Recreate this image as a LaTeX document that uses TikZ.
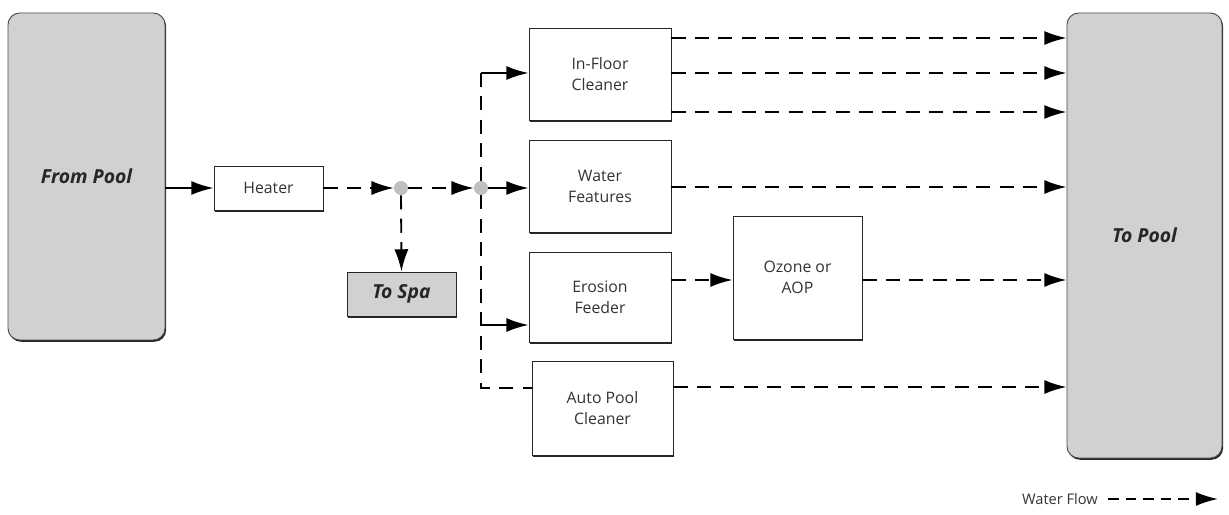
\documentclass[tikz,border=0pt]{standalone}
\usepackage{fontspec}
\setmainfont{Open Sans}
\usetikzlibrary{arrows.meta,shadows}
\begin{document}
\begin{tikzpicture}[x=0.03cm,y=-0.03cm,
 box/.style={draw=black!85,line width=0.8pt,fill=white,inner sep=0pt,align=center,font=\fontsize{13.5}{18}\selectfont\color{black!80},drop shadow={shadow xshift=1pt,shadow yshift=-1.5pt,fill=black!85,opacity=1}},
 gbox/.style={box,fill=black!18,font=\fontsize{16.5}{18}\selectfont\bfseries\itshape\color{black!85}},
 pool/.style={gbox,rounded corners=10pt,draw=black!70},
 tip/.style={-{Latex[length=19pt,width=12pt]}},
 flow/.style={line width=1.6pt,dash pattern=on 12pt off 8pt,tip},
 solid flow/.style={line width=1.6pt,tip},
 dot/.style={circle,fill=black!25,inner sep=0pt,minimum size=12pt}]
\useasboundingbox (0,0) rectangle (1229,515);
\node[pool,minimum width=157*0.03cm,minimum height=327*0.03cm] (from) at (86.5,176.5) {From Pool};
\node[pool,minimum width=155*0.03cm,minimum height=445*0.03cm] (to) at (1144.5,235.5) {To Pool};
\node[box,minimum width=109*0.03cm,minimum height=44*0.03cm] (heater) at (268.5,188) {Heater};
\node[gbox,minimum width=109*0.03cm,minimum height=44*0.03cm] (spa) at (401.5,294) {To Spa};
\node[box,minimum width=142*0.03cm,minimum height=92*0.03cm] (infloor) at (600,74) {In-Floor\\Cleaner};
\node[box,minimum width=142*0.03cm,minimum height=92*0.03cm] (water) at (600,186) {Water\\Features};
\node[box,minimum width=142*0.03cm,minimum height=90*0.03cm] (erosion) at (600,297) {Erosion\\Feeder};
\node[box,minimum width=141*0.03cm,minimum height=94*0.03cm] (auto) at (602.5,408) {Auto Pool\\Cleaner};
\node[box,minimum width=129*0.03cm,minimum height=123*0.03cm] (ozone) at (797.5,277.5) {Ozone or\\AOP};
\node[dot] (j1) at (401,188) {};
\node[dot] (j2) at (481,188) {};
\coordinate (top) at (481,73);
\coordinate (mid) at (481,325);
\coordinate (bot) at (481,388);
\draw[solid flow] (from.east |- heater) -- (heater.west);
\draw[flow] (heater.east) -- (j1.west);
\draw[flow] (j1.east) -- (j2.west);
\draw[solid flow] (j2.east) -- (water.west |- j2);
\draw[flow] (j1.south) -- (spa.north);
\draw[line width=1.6pt,dash pattern=on 12pt off 8pt] (top) -- (j2.north) (j2.south) -- (bot) -- (auto.west |- bot);
\draw[solid flow] (top) -- (infloor.west |- top);
\draw[solid flow] (mid) -- (erosion.west |- mid);
\foreach \y in {38,73,112}{\draw[flow] (infloor.east |- 0,\y) -- (to.west |- 0,\y);}
\draw[flow] (water.east |- 0,187) -- (to.west |- 0,187);
\draw[flow] (erosion.east |- 0,280) -- (ozone.west |- 0,280);
\draw[flow] (ozone.east |- 0,280) -- (to.west |- 0,280);
\draw[flow] (auto.east |- 0,387) -- (to.west |- 0,387);
\node[font=\fontsize{12.5}{14}\selectfont\color{black!80},anchor=east] (leg) at (1102,499) {Water Flow};
\coordinate (legend end) at (1218,499);
\draw[line width=1.6pt,dash pattern=on 9pt off 6pt,tip] (leg.east) ++(6,0) -- (legend end);
\end{tikzpicture}
\end{document}
